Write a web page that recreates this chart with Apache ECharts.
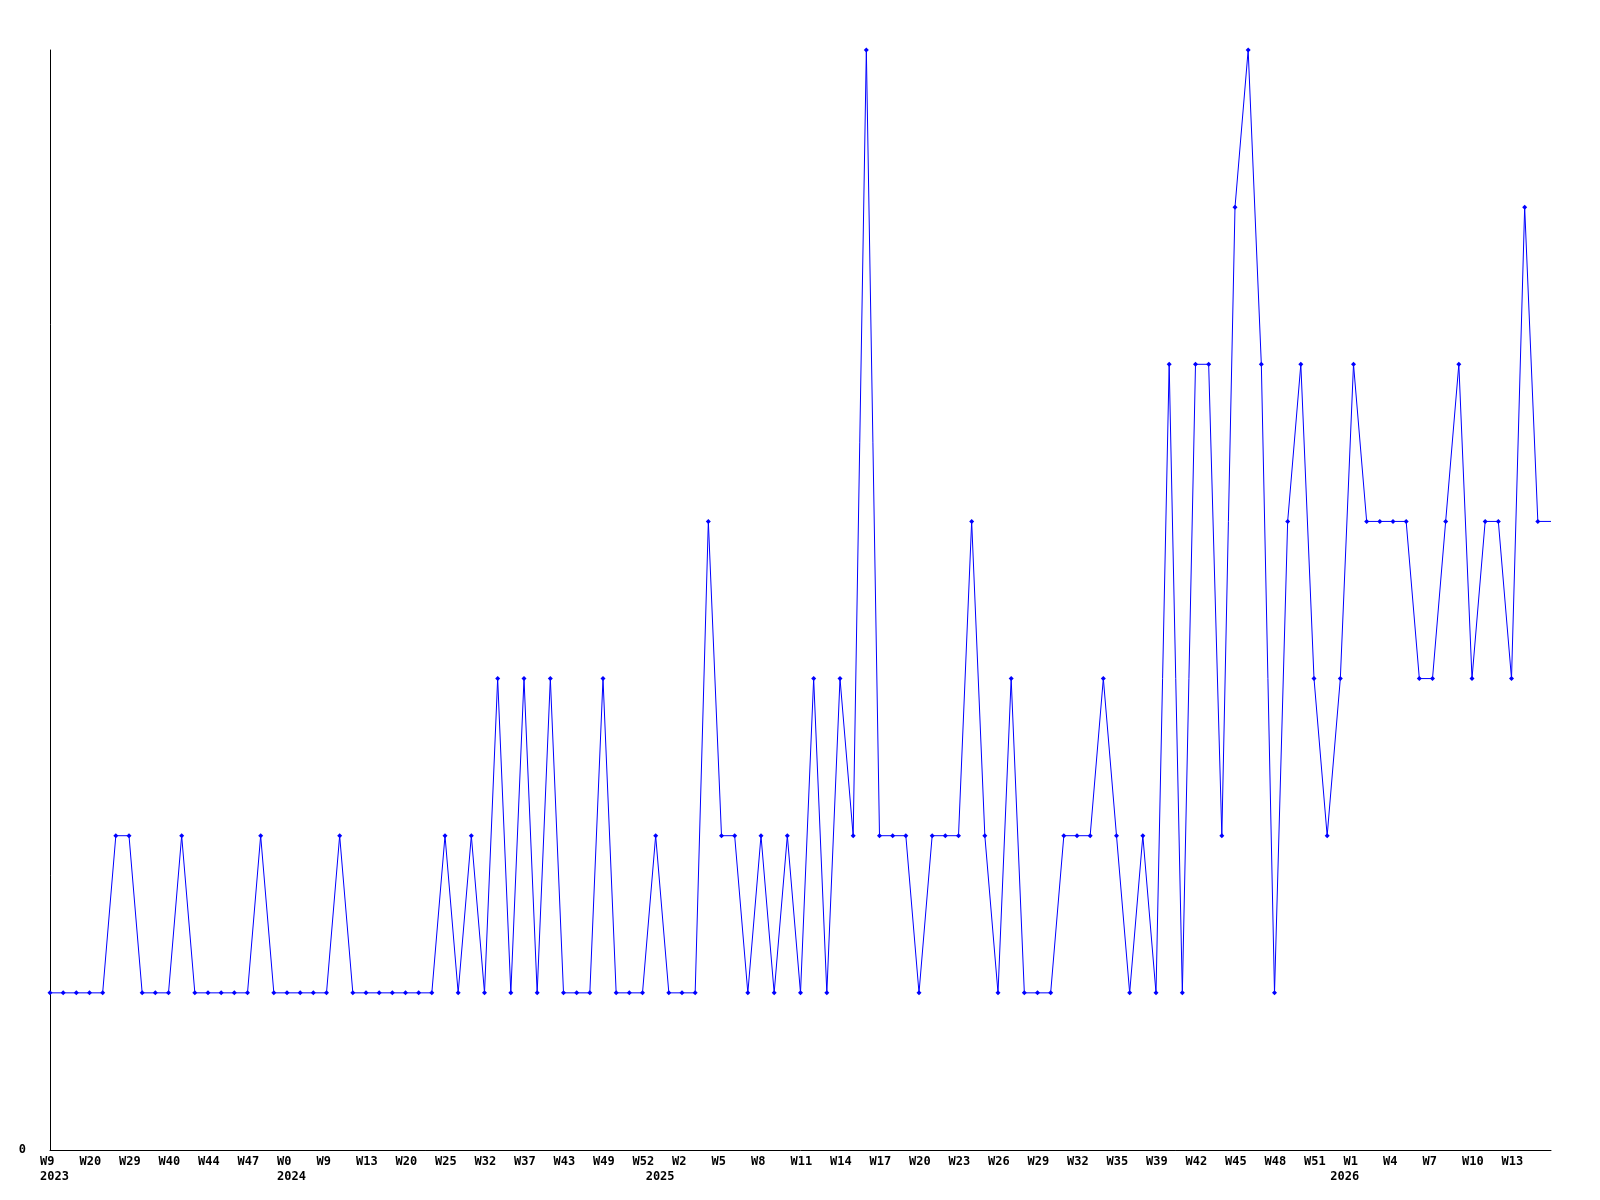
<!DOCTYPE html>
<html>
<head>
<meta charset="utf-8">
<script src="https://cdn.jsdelivr.net/npm/echarts@6/dist/echarts.min.js"></script>
<style>
html,body{margin:0;padding:0;background:#fff;}
#chart{width:1600px;height:1200px;}
</style>
</head>
<body>
<div id="chart"></div>
<script>
// Week label of each point (only every 3rd one is shown on the axis)
const weeks = [
  'W9','W12','W16','W20','W23','W26','W29','W33','W37','W40','W41','W43','W44','W45','W46','W47','W49','W51',
  'W0','W3','W6','W9','W11','W12','W13','W16','W18','W20','W22','W24','W25','W28','W30','W32','W34','W35','W37','W39','W41','W43','W45','W47','W49','W50','W51','W52',
  'W0','W1','W2','W3','W4','W5','W6','W7','W8','W9','W10','W11','W12','W13','W14','W15','W16','W17','W18','W19','W20','W21','W22','W23','W24','W25','W26','W27','W28','W29','W30','W31','W32','W33','W34','W35','W36','W37','W39','W40','W41','W42','W43','W44','W45','W46','W47','W48','W49','W50','W51','W52',
  'W0','W1','W2','W3','W4','W5','W6','W7','W8','W9','W10','W11','W12','W13','W14','W15','W16'
];
// Year of each point
const years = [];
for (let i = 0; i < weeks.length; i++) years.push(i < 18 ? '2023' : i < 46 ? '2024' : i < 98 ? '2025' : '2026');
// Indices where the year label is printed
const yearStarts = [0, 18, 46, 98];
// Series values
const values = [
  1,1,1,1,1,2,2,1,1,1,2,1,1,1,1,1,2,1,1,1,1,1,2,1,1,1,1,1,1,1,
  2,1,2,1,3,1,3,1,3,1,1,1,3,1,1,1,2,1,1,1,4,2,2,1,2,1,2,1,3,1,
  3,2,7,2,2,2,1,2,2,2,4,2,1,3,1,1,1,2,2,2,3,2,1,2,1,5,1,5,5,2,
  6,7,5,1,4,5,3,2,3,5,4,4,4,4,3,3,4,5,3,4,4,3,6,4,4
];
const yMin = 0, yMax = 7;

const cats = weeks.map((w, i) => years[i] + '-' + w);
const lastIdx = values.length - 1;
const seriesData = values.map((v, i) => i === lastIdx ? {value: v, symbol: 'none'} : v);

const font = {fontFamily: 'DejaVu Sans Mono', fontWeight: 'bold', fontSize: 12, color: '#000'};

const chart = echarts.init(document.getElementById('chart'), null, {renderer: 'canvas'});
chart.setOption({
  animation: false,
  backgroundColor: '#fff',
  grid: {left: 50, right: 49, top: 50, bottom: 50, containLabel: false},
  xAxis: [
    {
      type: 'category', data: cats, boundaryGap: false, position: 'bottom',
      axisLine: {show: true, lineStyle: {color: '#000', width: 1}},
      axisTick: {show: false},
      splitLine: {show: false},
      axisLabel: Object.assign({
        interval: (i) => i % 3 === 0 && i < lastIdx,
        margin: 6,
        align: 'left',
        padding: [0, 0, 0, -10],
        formatter: (v) => v.split('-')[1]
      }, font)
    },
    {
      type: 'category', data: cats, boundaryGap: false, position: 'bottom', gridIndex: 0,
      axisLine: {show: false}, axisTick: {show: false}, splitLine: {show: false},
      axisLabel: Object.assign({
        interval: (i) => yearStarts.indexOf(i) >= 0,
        margin: 21,
        align: 'left',
        padding: [0, 0, 0, -10],
        formatter: (v) => v.split('-')[0]
      }, font)
    }
  ],
  yAxis: {
    type: 'value', min: yMin, max: yMax, interval: 7,
    axisLine: {show: true, lineStyle: {color: '#000', width: 1}},
    axisTick: {show: false},
    splitLine: {show: false},
    axisLabel: Object.assign({
      margin: 24,
      formatter: (v) => v === 0 ? '0' : ''
    }, font)
  },
  series: [{
    type: 'line',
    xAxisIndex: 0,
    data: seriesData,
    symbol: 'diamond',
    symbolSize: 5,
    showAllSymbol: true,
    lineStyle: {color: '#0000ff', width: 1},
    itemStyle: {color: '#0000ff'},
    clip: false
  }]
});
</script>
</body>
</html>
